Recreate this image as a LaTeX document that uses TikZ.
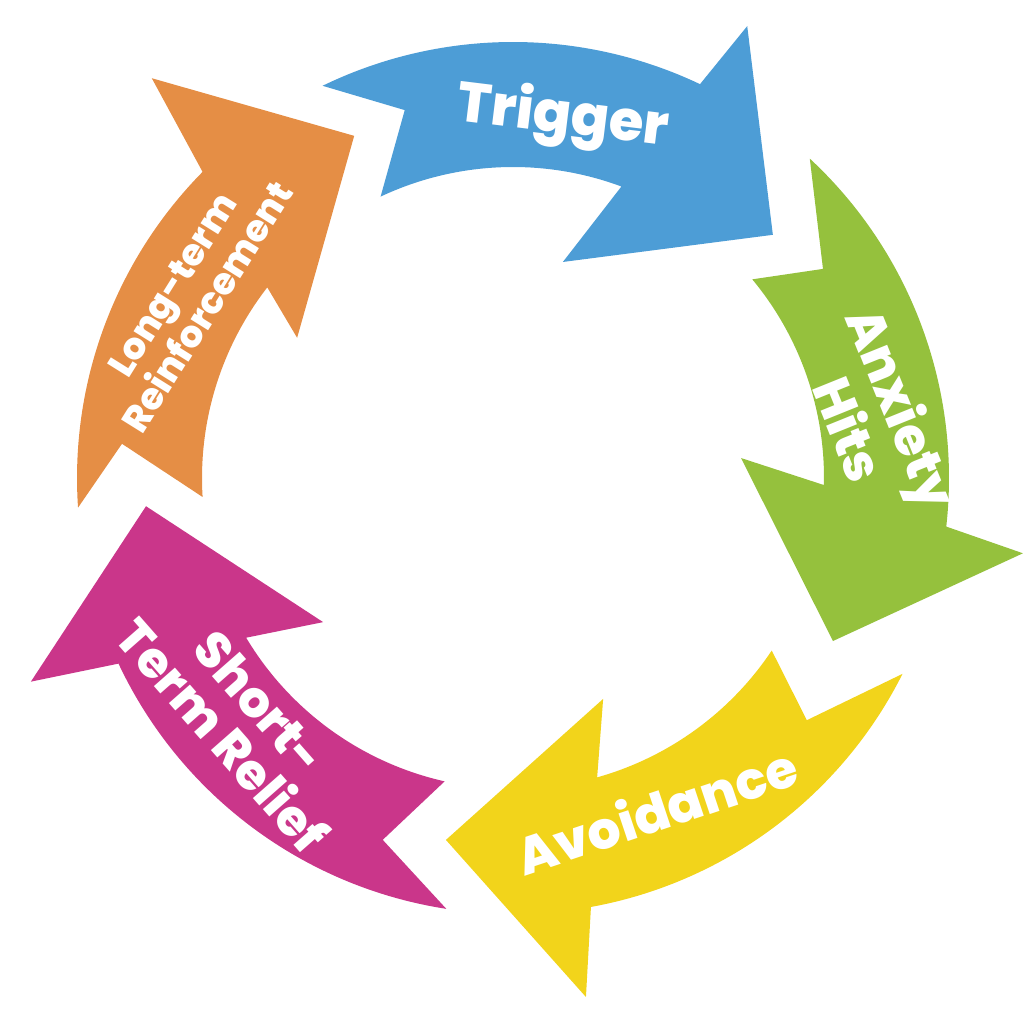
\documentclass[tikz,border=0pt]{standalone}
\usepackage{fontspec}
\setmainfont{Poppins}[BoldFont={Poppins ExtraBold}]
\definecolor{cblue}{HTML}{4D9DD6}
\definecolor{cgreen}{HTML}{95C13D}
\definecolor{cyellow}{HTML}{F2D41B}
\definecolor{cmagenta}{HTML}{CA368A}
\definecolor{corange}{HTML}{E58E45}
\begin{document}
\begin{tikzpicture}[x=1pt,y=1pt,
  lbl/.style={text=white, font=\bfseries\fontsize{52}{53}\selectfont, align=center, inner sep=0pt},
  lblsmall/.style={text=white, font=\bfseries\fontsize{37}{42}\selectfont, align=center, inner sep=0pt}]
\useasboundingbox (0,0) rectangle (1024,1024);
\begin{scope}[shift={(513,546)}]
\def\Ro{436}\def\Ri{311}
% Trigger (blue)
\fill[cblue] (115.9:\Ro) arc[start angle=115.9, end angle=64.6, radius=\Ro]
  -- (62.6:509) -- (43.1:355.9) -- (77.0:221.7) -- (69.6:\Ri)
  arc[start angle=69.6, end angle=115.2, radius=\Ri] -- (106.4:383.5) -- cycle;
% Anxiety Hits (green)
\fill[cgreen] (47.1:\Ro) arc[start angle=47.1, end angle=-6.4, radius=\Ro]
  -- (-8.4:515.5) -- (-27.0:359.1) -- (5.0:228.9) -- (-1.3:\Ri)
  arc[start angle=-1.3, end angle=39.7, radius=\Ri] -- (34.0:373.9) -- cycle;
% Avoidance (yellow)
\fill[cyellow] (-26.7:\Ro) arc[start angle=-26.7, end angle=-79.7, radius=\Ro]
  -- (-82.0:524.1) -- (-100.5:368.1) -- (-67.8:238.6) -- (-74.3:\Ri)
  arc[start angle=-74.3, end angle=-33.7, radius=\Ri] -- (-39.5:380.8) -- cycle;
% Short-Term Relief (magenta)
\fill[cmagenta] (-98.8:\Ro) arc[start angle=-98.8, end angle=-154.8, radius=\Ro]
  -- (-157.1:523.4) -- (-175.6:368.1) -- (-142.8:238.4) -- (-149.1:\Ri)
  arc[start angle=-149.1, end angle=-102.7, radius=\Ri] -- (-109.8:384.6) -- cycle;
% Long-term Reinforcement (orange)
\fill[corange] (183.9:\Ro) arc[start angle=183.9, end angle=135.4, radius=\Ro]
  -- (132.1:538.8) -- (114.9:377.2) -- (147.0:257.4) -- (142.2:\Ri)
  arc[start angle=142.2, end angle=183.5, radius=\Ri] -- (175.0:392.5) -- cycle;
% labels
\node[lbl, anchor=base, rotate=-7, font=\bfseries\fontsize{56}{56}\selectfont] (trigger) at (48,345) {Trigger};
\node[lbl, rotate=-68] (anxiety) at (364,60) {Anxiety\\Hits};
\node[lbl, anchor=base, rotate=18.5] (avoid) at (150,-352) {Avoidance};
\node[lbl, rotate=-48.7, font=\bfseries\fontsize{50}{50}\selectfont] (relief) at (-272,-241) {Short-\\Term Relief};
\node[lblsmall, rotate=58] (reinf) at (-323,182) {Long-term\\Reinforcement};
\end{scope}
\end{tikzpicture}
\end{document}
